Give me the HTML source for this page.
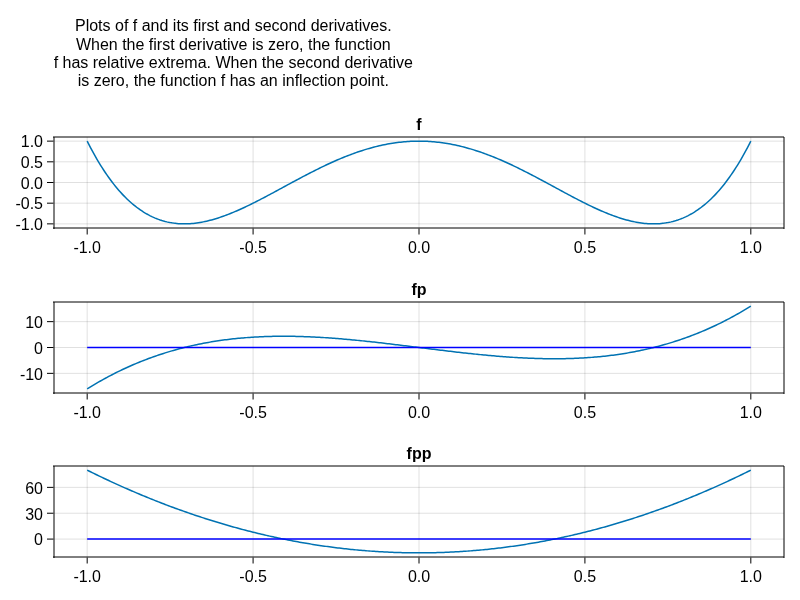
<!DOCTYPE html>
<html lang="en"><head><meta charset="utf-8"><title>Plots of f and its derivatives</title>
<style>html,body{margin:0;padding:0;background:#fff}svg{display:block}text{font-family:"Liberation Sans",sans-serif;font-size:16px;fill:#000}.b{font-weight:bold}.g{stroke:rgba(0,0,0,0.12);stroke-width:1;fill:none}.s{stroke:#000;stroke-width:1;fill:none;stroke-linecap:butt}.c{stroke:#0072B2;stroke-width:1.5;fill:none;stroke-linejoin:round}.z{stroke:#0000ff;stroke-width:1.5;fill:none}</style></head><body>
<svg width="800" height="600" viewBox="0 0 800 600">
<rect width="800" height="600" fill="#fff"/>
<text x="233.3" y="31" text-anchor="middle">Plots of f and its first and second derivatives.</text>
<text x="233.3" y="50" text-anchor="middle">When the first derivative is zero, the function</text>
<text x="233.3" y="68" text-anchor="middle">f has relative extrema. When the second derivative</text>
<text x="233.3" y="86" text-anchor="middle">is zero, the function f has an inflection point.</text>
<g>
<line class="g" x1="87.18" y1="137.0" x2="87.18" y2="228.0"/>
<line class="g" x1="253.09" y1="137.0" x2="253.09" y2="228.0"/>
<line class="g" x1="419.00" y1="137.0" x2="419.00" y2="228.0"/>
<line class="g" x1="584.91" y1="137.0" x2="584.91" y2="228.0"/>
<line class="g" x1="750.82" y1="137.0" x2="750.82" y2="228.0"/>
<line class="g" x1="54.0" y1="223.86" x2="784.0" y2="223.86"/>
<line class="g" x1="54.0" y1="203.18" x2="784.0" y2="203.18"/>
<line class="g" x1="54.0" y1="182.50" x2="784.0" y2="182.50"/>
<line class="g" x1="54.0" y1="161.82" x2="784.0" y2="161.82"/>
<line class="g" x1="54.0" y1="141.14" x2="784.0" y2="141.14"/>
<polyline class="c" points="87.182,141.136 88.841,144.404 90.500,147.590 92.159,150.696 93.818,153.721 95.477,156.668 97.136,159.537 98.795,162.329 100.455,165.046 102.114,167.687 103.773,170.254 105.432,172.749 107.091,175.171 108.750,177.522 110.409,179.802 112.068,182.014 113.727,184.157 115.386,186.232 117.045,188.241 118.705,190.185 120.364,192.063 122.023,193.878 123.682,195.630 125.341,197.319 127.000,198.948 128.659,200.516 130.318,202.024 131.977,203.474 133.636,204.867 135.295,206.202 136.955,207.482 138.614,208.706 140.273,209.876 141.932,210.992 143.591,212.056 145.250,213.068 146.909,214.028 148.568,214.939 150.227,215.800 151.886,216.613 153.545,217.378 155.205,218.096 156.864,218.767 158.523,219.394 160.182,219.975 161.841,220.513 163.500,221.008 165.159,221.460 166.818,221.871 168.477,222.241 170.136,222.571 171.795,222.862 173.455,223.114 175.114,223.328 176.773,223.505 178.432,223.646 180.091,223.752 181.750,223.822 183.409,223.858 185.068,223.861 186.727,223.831 188.386,223.768 190.045,223.675 191.705,223.550 193.364,223.396 195.023,223.212 196.682,223.000 198.341,222.759 200.000,222.491 201.659,222.197 203.318,221.876 204.977,221.530 206.636,221.159 208.295,220.765 209.955,220.346 211.614,219.905 213.273,219.442 214.932,218.957 216.591,218.450 218.250,217.924 219.909,217.378 221.568,216.812 223.227,216.228 224.886,215.626 226.545,215.007 228.205,214.371 229.864,213.718 231.523,213.050 233.182,212.366 234.841,211.668 236.500,210.956 238.159,210.231 239.818,209.492 241.477,208.741 243.136,207.978 244.795,207.204 246.455,206.419 248.114,205.624 249.773,204.819 251.432,204.005 253.091,203.182 254.750,202.350 256.409,201.511 258.068,200.665 259.727,199.812 261.386,198.952 263.045,198.087 264.705,197.216 266.364,196.340 268.023,195.460 269.682,194.576 271.341,193.688 273.000,192.798 274.659,191.904 276.318,191.008 277.977,190.111 279.636,189.212 281.295,188.312 282.955,187.411 284.614,186.511 286.273,185.611 287.932,184.711 289.591,183.812 291.250,182.915 292.909,182.020 294.568,181.127 296.227,180.236 297.886,179.348 299.545,178.464 301.205,177.584 302.864,176.707 304.523,175.835 306.182,174.967 307.841,174.105 309.500,173.248 311.159,172.397 312.818,171.552 314.477,170.713 316.136,169.881 317.795,169.056 319.455,168.238 321.114,167.428 322.773,166.625 324.432,165.831 326.091,165.046 327.750,164.269 329.409,163.501 331.068,162.743 332.727,161.994 334.386,161.255 336.045,160.526 337.705,159.807 339.364,159.099 341.023,158.402 342.682,157.715 344.341,157.041 346.000,156.377 347.659,155.726 349.318,155.086 350.977,154.458 352.636,153.843 354.295,153.241 355.955,152.651 357.614,152.074 359.273,151.510 360.932,150.960 362.591,150.423 364.250,149.900 365.909,149.391 367.568,148.895 369.227,148.414 370.886,147.947 372.545,147.495 374.205,147.057 375.864,146.634 377.523,146.226 379.182,145.833 380.841,145.455 382.500,145.092 384.159,144.744 385.818,144.412 387.477,144.096 389.136,143.795 390.795,143.510 392.455,143.241 394.114,142.987 395.773,142.750 397.432,142.529 399.091,142.323 400.750,142.134 402.409,141.962 404.068,141.805 405.727,141.665 407.386,141.541 409.045,141.434 410.705,141.343 412.364,141.269 414.023,141.211 415.682,141.169 417.341,141.145 419.000,141.136 420.659,141.145 422.318,141.169 423.977,141.211 425.636,141.269 427.295,141.343 428.955,141.434 430.614,141.541 432.273,141.665 433.932,141.805 435.591,141.962 437.250,142.134 438.909,142.323 440.568,142.529 442.227,142.750 443.886,142.987 445.545,143.241 447.205,143.510 448.864,143.795 450.523,144.096 452.182,144.412 453.841,144.744 455.500,145.092 457.159,145.455 458.818,145.833 460.477,146.226 462.136,146.634 463.795,147.057 465.455,147.495 467.114,147.947 468.773,148.414 470.432,148.895 472.091,149.391 473.750,149.900 475.409,150.423 477.068,150.960 478.727,151.510 480.386,152.074 482.045,152.651 483.705,153.241 485.364,153.843 487.023,154.458 488.682,155.086 490.341,155.726 492.000,156.377 493.659,157.041 495.318,157.715 496.977,158.402 498.636,159.099 500.295,159.807 501.955,160.526 503.614,161.255 505.273,161.994 506.932,162.743 508.591,163.501 510.250,164.269 511.909,165.046 513.568,165.831 515.227,166.625 516.886,167.428 518.545,168.238 520.205,169.056 521.864,169.881 523.523,170.713 525.182,171.552 526.841,172.397 528.500,173.248 530.159,174.105 531.818,174.967 533.477,175.835 535.136,176.707 536.795,177.584 538.455,178.464 540.114,179.348 541.773,180.236 543.432,181.127 545.091,182.020 546.750,182.915 548.409,183.812 550.068,184.711 551.727,185.611 553.386,186.511 555.045,187.411 556.705,188.312 558.364,189.212 560.023,190.111 561.682,191.008 563.341,191.904 565.000,192.798 566.659,193.688 568.318,194.576 569.977,195.460 571.636,196.340 573.295,197.216 574.955,198.087 576.614,198.952 578.273,199.812 579.932,200.665 581.591,201.511 583.250,202.350 584.909,203.182 586.568,204.005 588.227,204.819 589.886,205.624 591.545,206.419 593.205,207.204 594.864,207.978 596.523,208.741 598.182,209.492 599.841,210.231 601.500,210.956 603.159,211.668 604.818,212.366 606.477,213.050 608.136,213.718 609.795,214.371 611.455,215.007 613.114,215.626 614.773,216.228 616.432,216.812 618.091,217.378 619.750,217.924 621.409,218.450 623.068,218.957 624.727,219.442 626.386,219.905 628.045,220.346 629.705,220.765 631.364,221.159 633.023,221.530 634.682,221.876 636.341,222.197 638.000,222.491 639.659,222.759 641.318,223.000 642.977,223.212 644.636,223.396 646.295,223.550 647.955,223.675 649.614,223.768 651.273,223.831 652.932,223.861 654.591,223.858 656.250,223.822 657.909,223.752 659.568,223.646 661.227,223.505 662.886,223.328 664.545,223.114 666.205,222.862 667.864,222.571 669.523,222.241 671.182,221.871 672.841,221.460 674.500,221.008 676.159,220.513 677.818,219.975 679.477,219.394 681.136,218.767 682.795,218.096 684.455,217.378 686.114,216.613 687.773,215.800 689.432,214.939 691.091,214.028 692.750,213.068 694.409,212.056 696.068,210.992 697.727,209.876 699.386,208.706 701.045,207.482 702.705,206.202 704.364,204.867 706.023,203.474 707.682,202.024 709.341,200.516 711.000,198.948 712.659,197.319 714.318,195.630 715.977,193.878 717.636,192.063 719.295,190.185 720.955,188.241 722.614,186.232 724.273,184.157 725.932,182.014 727.591,179.802 729.250,177.522 730.909,175.171 732.568,172.749 734.227,170.254 735.886,167.687 737.545,165.046 739.205,162.329 740.864,159.537 742.523,156.668 744.182,153.721 745.841,150.696 747.500,147.590 749.159,144.404 750.818,141.136"/>
<path class="s" d="M53.0 137.0H784.0M53.0 228.0H784.0M54.0 137.0V229.0M784.0 137.0V229.0"/>
<path class="s" d="M87.18 228.5v6M253.09 228.5v6M419.00 228.5v6M584.91 228.5v6M750.82 228.5v6M53.5 223.86h-6.5M53.5 203.18h-6.5M53.5 182.50h-6.5M53.5 161.82h-6.5M53.5 141.14h-6.5"/>
<text x="87.18" y="253" text-anchor="middle">-1.0</text>
<text x="253.09" y="253" text-anchor="middle">-0.5</text>
<text x="419.00" y="253" text-anchor="middle">0.0</text>
<text x="584.91" y="253" text-anchor="middle">0.5</text>
<text x="750.82" y="253" text-anchor="middle">1.0</text>
<text x="43.0" y="230" text-anchor="end">-1.0</text>
<text x="43.0" y="209" text-anchor="end">-0.5</text>
<text x="43.0" y="189" text-anchor="end">0.0</text>
<text x="43.0" y="168" text-anchor="end">0.5</text>
<text x="43.0" y="147" text-anchor="end">1.0</text>
<text class="b" x="419.0" y="129.50" text-anchor="middle">f</text>
</g>
<g>
<line class="g" x1="87.18" y1="302.0" x2="87.18" y2="393.0"/>
<line class="g" x1="253.09" y1="302.0" x2="253.09" y2="393.0"/>
<line class="g" x1="419.00" y1="302.0" x2="419.00" y2="393.0"/>
<line class="g" x1="584.91" y1="302.0" x2="584.91" y2="393.0"/>
<line class="g" x1="750.82" y1="302.0" x2="750.82" y2="393.0"/>
<line class="g" x1="54.0" y1="373.35" x2="784.0" y2="373.35"/>
<line class="g" x1="54.0" y1="347.50" x2="784.0" y2="347.50"/>
<line class="g" x1="54.0" y1="321.65" x2="784.0" y2="321.65"/>
<polyline class="c" points="87.182,388.864 88.841,387.836 90.500,386.820 92.159,385.817 93.818,384.826 95.477,383.847 97.136,382.880 98.795,381.925 100.455,380.983 102.114,380.052 103.773,379.133 105.432,378.226 107.091,377.330 108.750,376.446 110.409,375.574 112.068,374.713 113.727,373.864 115.386,373.026 117.045,372.200 118.705,371.385 120.364,370.581 122.023,369.788 123.682,369.007 125.341,368.236 127.000,367.476 128.659,366.728 130.318,365.990 131.977,365.263 133.636,364.546 135.295,363.841 136.955,363.146 138.614,362.461 140.273,361.787 141.932,361.124 143.591,360.471 145.250,359.828 146.909,359.195 148.568,358.572 150.227,357.960 151.886,357.358 153.545,356.765 155.205,356.183 156.864,355.610 158.523,355.048 160.182,354.495 161.841,353.951 163.500,353.418 165.159,352.894 166.818,352.379 168.477,351.874 170.136,351.378 171.795,350.891 173.455,350.414 175.114,349.946 176.773,349.487 178.432,349.037 180.091,348.596 181.750,348.164 183.409,347.741 185.068,347.326 186.727,346.921 188.386,346.524 190.045,346.136 191.705,345.756 193.364,345.385 195.023,345.022 196.682,344.668 198.341,344.322 200.000,343.984 201.659,343.654 203.318,343.333 204.977,343.019 206.636,342.714 208.295,342.416 209.955,342.127 211.614,341.845 213.273,341.571 214.932,341.304 216.591,341.046 218.250,340.795 219.909,340.551 221.568,340.315 223.227,340.086 224.886,339.864 226.545,339.650 228.205,339.443 229.864,339.243 231.523,339.050 233.182,338.865 234.841,338.686 236.500,338.514 238.159,338.349 239.818,338.190 241.477,338.039 243.136,337.893 244.795,337.755 246.455,337.623 248.114,337.498 249.773,337.378 251.432,337.266 253.091,337.159 254.750,337.059 256.409,336.965 258.068,336.877 259.727,336.794 261.386,336.718 263.045,336.648 264.705,336.584 266.364,336.525 268.023,336.472 269.682,336.425 271.341,336.383 273.000,336.347 274.659,336.316 276.318,336.291 277.977,336.271 279.636,336.256 281.295,336.247 282.955,336.243 284.614,336.243 286.273,336.249 287.932,336.260 289.591,336.275 291.250,336.296 292.909,336.321 294.568,336.351 296.227,336.386 297.886,336.425 299.545,336.469 301.205,336.517 302.864,336.570 304.523,336.627 306.182,336.688 307.841,336.753 309.500,336.823 311.159,336.897 312.818,336.974 314.477,337.056 316.136,337.142 317.795,337.231 319.455,337.325 321.114,337.422 322.773,337.522 324.432,337.626 326.091,337.734 327.750,337.845 329.409,337.960 331.068,338.078 332.727,338.199 334.386,338.324 336.045,338.452 337.705,338.583 339.364,338.716 341.023,338.853 342.682,338.993 344.341,339.135 346.000,339.281 347.659,339.429 349.318,339.580 350.977,339.733 352.636,339.889 354.295,340.048 355.955,340.208 357.614,340.372 359.273,340.537 360.932,340.705 362.591,340.875 364.250,341.047 365.909,341.221 367.568,341.397 369.227,341.575 370.886,341.754 372.545,341.936 374.205,342.119 375.864,342.304 377.523,342.491 379.182,342.679 380.841,342.869 382.500,343.060 384.159,343.253 385.818,343.446 387.477,343.641 389.136,343.838 390.795,344.035 392.455,344.233 394.114,344.433 395.773,344.633 397.432,344.834 399.091,345.036 400.750,345.239 402.409,345.442 404.068,345.646 405.727,345.851 407.386,346.056 409.045,346.261 410.705,346.467 412.364,346.673 414.023,346.880 415.682,347.086 417.341,347.293 419.000,347.500 420.659,347.707 422.318,347.914 423.977,348.120 425.636,348.327 427.295,348.533 428.955,348.739 430.614,348.944 432.273,349.149 433.932,349.354 435.591,349.558 437.250,349.761 438.909,349.964 440.568,350.166 442.227,350.367 443.886,350.567 445.545,350.767 447.205,350.965 448.864,351.162 450.523,351.359 452.182,351.554 453.841,351.747 455.500,351.940 457.159,352.131 458.818,352.321 460.477,352.509 462.136,352.696 463.795,352.881 465.455,353.064 467.114,353.246 468.773,353.425 470.432,353.603 472.091,353.779 473.750,353.953 475.409,354.125 477.068,354.295 478.727,354.463 480.386,354.628 482.045,354.792 483.705,354.952 485.364,355.111 487.023,355.267 488.682,355.420 490.341,355.571 492.000,355.719 493.659,355.865 495.318,356.007 496.977,356.147 498.636,356.284 500.295,356.417 501.955,356.548 503.614,356.676 505.273,356.801 506.932,356.922 508.591,357.040 510.250,357.155 511.909,357.266 513.568,357.374 515.227,357.478 516.886,357.578 518.545,357.675 520.205,357.769 521.864,357.858 523.523,357.944 525.182,358.026 526.841,358.103 528.500,358.177 530.159,358.247 531.818,358.312 533.477,358.373 535.136,358.430 536.795,358.483 538.455,358.531 540.114,358.575 541.773,358.614 543.432,358.649 545.091,358.679 546.750,358.704 548.409,358.725 550.068,358.740 551.727,358.751 553.386,358.757 555.045,358.757 556.705,358.753 558.364,358.744 560.023,358.729 561.682,358.709 563.341,358.684 565.000,358.653 566.659,358.617 568.318,358.575 569.977,358.528 571.636,358.475 573.295,358.416 574.955,358.352 576.614,358.282 578.273,358.206 579.932,358.123 581.591,358.035 583.250,357.941 584.909,357.841 586.568,357.734 588.227,357.622 589.886,357.502 591.545,357.377 593.205,357.245 594.864,357.107 596.523,356.961 598.182,356.810 599.841,356.651 601.500,356.486 603.159,356.314 604.818,356.135 606.477,355.950 608.136,355.757 609.795,355.557 611.455,355.350 613.114,355.136 614.773,354.914 616.432,354.685 618.091,354.449 619.750,354.205 621.409,353.954 623.068,353.696 624.727,353.429 626.386,353.155 628.045,352.873 629.705,352.584 631.364,352.286 633.023,351.981 634.682,351.667 636.341,351.346 638.000,351.016 639.659,350.678 641.318,350.332 642.977,349.978 644.636,349.615 646.295,349.244 647.955,348.864 649.614,348.476 651.273,348.079 652.932,347.674 654.591,347.259 656.250,346.836 657.909,346.404 659.568,345.963 661.227,345.513 662.886,345.054 664.545,344.586 666.205,344.109 667.864,343.622 669.523,343.126 671.182,342.621 672.841,342.106 674.500,341.582 676.159,341.049 677.818,340.505 679.477,339.952 681.136,339.390 682.795,338.817 684.455,338.235 686.114,337.642 687.773,337.040 689.432,336.428 691.091,335.805 692.750,335.172 694.409,334.529 696.068,333.876 697.727,333.213 699.386,332.539 701.045,331.854 702.705,331.159 704.364,330.454 706.023,329.737 707.682,329.010 709.341,328.272 711.000,327.524 712.659,326.764 714.318,325.993 715.977,325.212 717.636,324.419 719.295,323.615 720.955,322.800 722.614,321.974 724.273,321.136 725.932,320.287 727.591,319.426 729.250,318.554 730.909,317.670 732.568,316.774 734.227,315.867 735.886,314.948 737.545,314.017 739.205,313.075 740.864,312.120 742.523,311.153 744.182,310.174 745.841,309.183 747.500,308.180 749.159,307.164 750.818,306.136"/>
<line class="z" x1="87.18" y1="347.50" x2="750.82" y2="347.50"/>
<path class="s" d="M53.0 302.0H784.0M53.0 393.0H784.0M54.0 302.0V394.0M784.0 302.0V394.0"/>
<path class="s" d="M87.18 393.5v6M253.09 393.5v6M419.00 393.5v6M584.91 393.5v6M750.82 393.5v6M53.5 373.35h-6.5M53.5 347.50h-6.5M53.5 321.65h-6.5"/>
<text x="87.18" y="418" text-anchor="middle">-1.0</text>
<text x="253.09" y="418" text-anchor="middle">-0.5</text>
<text x="419.00" y="418" text-anchor="middle">0.0</text>
<text x="584.91" y="418" text-anchor="middle">0.5</text>
<text x="750.82" y="418" text-anchor="middle">1.0</text>
<text x="43.0" y="380" text-anchor="end">-10</text>
<text x="43.0" y="354" text-anchor="end">0</text>
<text x="43.0" y="328" text-anchor="end">10</text>
<text class="b" x="419.0" y="294.50" text-anchor="middle">fp</text>
</g>
<g>
<line class="g" x1="87.18" y1="466.0" x2="87.18" y2="557.0"/>
<line class="g" x1="253.09" y1="466.0" x2="253.09" y2="557.0"/>
<line class="g" x1="419.00" y1="466.0" x2="419.00" y2="557.0"/>
<line class="g" x1="584.91" y1="466.0" x2="584.91" y2="557.0"/>
<line class="g" x1="750.82" y1="466.0" x2="750.82" y2="557.0"/>
<line class="g" x1="54.0" y1="539.08" x2="784.0" y2="539.08"/>
<line class="g" x1="54.0" y1="513.22" x2="784.0" y2="513.22"/>
<line class="g" x1="54.0" y1="487.37" x2="784.0" y2="487.37"/>
<polyline class="c" points="87.182,470.136 88.841,470.962 90.500,471.783 92.159,472.600 93.818,473.412 95.477,474.221 97.136,475.026 98.795,475.826 100.455,476.622 102.114,477.414 103.773,478.202 105.432,478.986 107.091,479.766 108.750,480.541 110.409,481.313 112.068,482.080 113.727,482.843 115.386,483.602 117.045,484.357 118.705,485.108 120.364,485.855 122.023,486.597 123.682,487.335 125.341,488.070 127.000,488.800 128.659,489.526 130.318,490.247 131.977,490.965 133.636,491.679 135.295,492.388 136.955,493.093 138.614,493.794 140.273,494.491 141.932,495.184 143.591,495.873 145.250,496.557 146.909,497.238 148.568,497.914 150.227,498.586 151.886,499.254 153.545,499.918 155.205,500.578 156.864,501.234 158.523,501.885 160.182,502.532 161.841,503.176 163.500,503.815 165.159,504.450 166.818,505.080 168.477,505.707 170.136,506.330 171.795,506.948 173.455,507.562 175.114,508.172 176.773,508.778 178.432,509.380 180.091,509.978 181.750,510.571 183.409,511.161 185.068,511.746 186.727,512.327 188.386,512.904 190.045,513.477 191.705,514.046 193.364,514.611 195.023,515.171 196.682,515.727 198.341,516.280 200.000,516.828 201.659,517.372 203.318,517.911 204.977,518.447 206.636,518.979 208.295,519.506 209.955,520.029 211.614,520.548 213.273,521.063 214.932,521.574 216.591,522.081 218.250,522.583 219.909,523.082 221.568,523.576 223.227,524.066 224.886,524.552 226.545,525.034 228.205,525.512 229.864,525.986 231.523,526.455 233.182,526.920 234.841,527.382 236.500,527.839 238.159,528.292 239.818,528.740 241.477,529.185 243.136,529.626 244.795,530.062 246.455,530.494 248.114,530.922 249.773,531.346 251.432,531.766 253.091,532.182 254.750,532.593 256.409,533.001 258.068,533.404 259.727,533.803 261.386,534.198 263.045,534.589 264.705,534.976 266.364,535.359 268.023,535.737 269.682,536.111 271.341,536.482 273.000,536.848 274.659,537.210 276.318,537.567 277.977,537.921 279.636,538.271 281.295,538.616 282.955,538.957 284.614,539.294 286.273,539.627 287.932,539.956 289.591,540.281 291.250,540.601 292.909,540.918 294.568,541.230 296.227,541.538 297.886,541.842 299.545,542.142 301.205,542.438 302.864,542.730 304.523,543.017 306.182,543.300 307.841,543.580 309.500,543.855 311.159,544.126 312.818,544.392 314.477,544.655 316.136,544.914 317.795,545.168 319.455,545.418 321.114,545.664 322.773,545.906 324.432,546.144 326.091,546.378 327.750,546.607 329.409,546.833 331.068,547.054 332.727,547.271 334.386,547.484 336.045,547.693 337.705,547.898 339.364,548.099 341.023,548.295 342.682,548.487 344.341,548.676 346.000,548.860 347.659,549.040 349.318,549.215 350.977,549.387 352.636,549.555 354.295,549.718 355.955,549.877 357.614,550.032 359.273,550.183 360.932,550.330 362.591,550.473 364.250,550.611 365.909,550.746 367.568,550.876 369.227,551.002 370.886,551.124 372.545,551.242 374.205,551.356 375.864,551.466 377.523,551.571 379.182,551.672 380.841,551.770 382.500,551.863 384.159,551.952 385.818,552.036 387.477,552.117 389.136,552.194 390.795,552.266 392.455,552.334 394.114,552.398 395.773,552.458 397.432,552.514 399.091,552.566 400.750,552.613 402.409,552.657 404.068,552.696 405.727,552.731 407.386,552.762 409.045,552.789 410.705,552.812 412.364,552.831 414.023,552.845 415.682,552.855 417.341,552.862 419.000,552.864 420.659,552.862 422.318,552.855 423.977,552.845 425.636,552.831 427.295,552.812 428.955,552.789 430.614,552.762 432.273,552.731 433.932,552.696 435.591,552.657 437.250,552.613 438.909,552.566 440.568,552.514 442.227,552.458 443.886,552.398 445.545,552.334 447.205,552.266 448.864,552.194 450.523,552.117 452.182,552.036 453.841,551.952 455.500,551.863 457.159,551.770 458.818,551.672 460.477,551.571 462.136,551.466 463.795,551.356 465.455,551.242 467.114,551.124 468.773,551.002 470.432,550.876 472.091,550.746 473.750,550.611 475.409,550.473 477.068,550.330 478.727,550.183 480.386,550.032 482.045,549.877 483.705,549.718 485.364,549.555 487.023,549.387 488.682,549.215 490.341,549.040 492.000,548.860 493.659,548.676 495.318,548.487 496.977,548.295 498.636,548.099 500.295,547.898 501.955,547.693 503.614,547.484 505.273,547.271 506.932,547.054 508.591,546.833 510.250,546.607 511.909,546.378 513.568,546.144 515.227,545.906 516.886,545.664 518.545,545.418 520.205,545.168 521.864,544.914 523.523,544.655 525.182,544.392 526.841,544.126 528.500,543.855 530.159,543.580 531.818,543.300 533.477,543.017 535.136,542.730 536.795,542.438 538.455,542.142 540.114,541.842 541.773,541.538 543.432,541.230 545.091,540.918 546.750,540.601 548.409,540.281 550.068,539.956 551.727,539.627 553.386,539.294 555.045,538.957 556.705,538.616 558.364,538.271 560.023,537.921 561.682,537.567 563.341,537.210 565.000,536.848 566.659,536.482 568.318,536.111 569.977,535.737 571.636,535.359 573.295,534.976 574.955,534.589 576.614,534.198 578.273,533.803 579.932,533.404 581.591,533.001 583.250,532.593 584.909,532.182 586.568,531.766 588.227,531.346 589.886,530.922 591.545,530.494 593.205,530.062 594.864,529.626 596.523,529.185 598.182,528.740 599.841,528.292 601.500,527.839 603.159,527.382 604.818,526.920 606.477,526.455 608.136,525.986 609.795,525.512 611.455,525.034 613.114,524.552 614.773,524.066 616.432,523.576 618.091,523.082 619.750,522.583 621.409,522.081 623.068,521.574 624.727,521.063 626.386,520.548 628.045,520.029 629.705,519.506 631.364,518.979 633.023,518.447 634.682,517.911 636.341,517.372 638.000,516.828 639.659,516.280 641.318,515.727 642.977,515.171 644.636,514.611 646.295,514.046 647.955,513.477 649.614,512.904 651.273,512.327 652.932,511.746 654.591,511.161 656.250,510.571 657.909,509.978 659.568,509.380 661.227,508.778 662.886,508.172 664.545,507.562 666.205,506.948 667.864,506.330 669.523,505.707 671.182,505.080 672.841,504.450 674.500,503.815 676.159,503.176 677.818,502.532 679.477,501.885 681.136,501.234 682.795,500.578 684.455,499.918 686.114,499.254 687.773,498.586 689.432,497.914 691.091,497.238 692.750,496.557 694.409,495.873 696.068,495.184 697.727,494.491 699.386,493.794 701.045,493.093 702.705,492.388 704.364,491.679 706.023,490.965 707.682,490.247 709.341,489.526 711.000,488.800 712.659,488.070 714.318,487.335 715.977,486.597 717.636,485.855 719.295,485.108 720.955,484.357 722.614,483.602 724.273,482.843 725.932,482.080 727.591,481.313 729.250,480.541 730.909,479.766 732.568,478.986 734.227,478.202 735.886,477.414 737.545,476.622 739.205,475.826 740.864,475.026 742.523,474.221 744.182,473.412 745.841,472.600 747.500,471.783 749.159,470.962 750.818,470.136"/>
<line class="z" x1="87.18" y1="539.08" x2="750.82" y2="539.08"/>
<path class="s" d="M53.0 466.0H784.0M53.0 557.0H784.0M54.0 466.0V558.0M784.0 466.0V558.0"/>
<path class="s" d="M87.18 557.5v6M253.09 557.5v6M419.00 557.5v6M584.91 557.5v6M750.82 557.5v6M53.5 539.08h-6.5M53.5 513.22h-6.5M53.5 487.37h-6.5"/>
<text x="87.18" y="582" text-anchor="middle">-1.0</text>
<text x="253.09" y="582" text-anchor="middle">-0.5</text>
<text x="419.00" y="582" text-anchor="middle">0.0</text>
<text x="584.91" y="582" text-anchor="middle">0.5</text>
<text x="750.82" y="582" text-anchor="middle">1.0</text>
<text x="43.0" y="545" text-anchor="end">0</text>
<text x="43.0" y="520" text-anchor="end">30</text>
<text x="43.0" y="494" text-anchor="end">60</text>
<text class="b" x="419.0" y="458.50" text-anchor="middle">fpp</text>
</g>
</svg></body></html>
